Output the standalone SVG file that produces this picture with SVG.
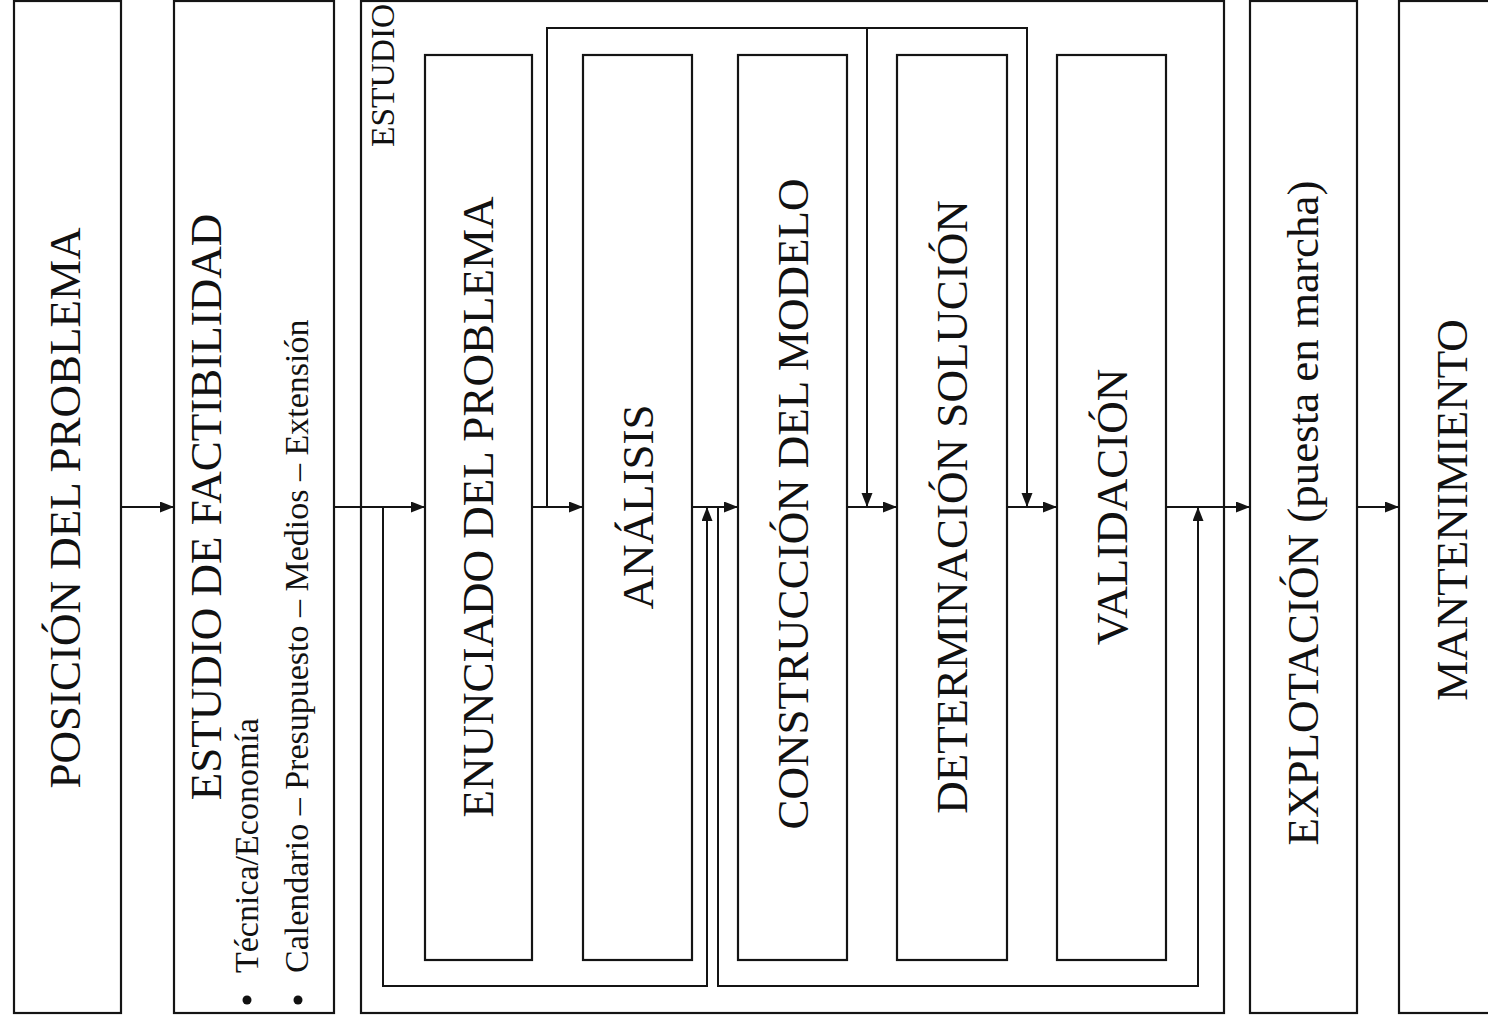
<svg xmlns="http://www.w3.org/2000/svg" width="1488" height="1019" viewBox="0 0 1488 1019">
  <style>
    .box { fill: #ffffff; stroke: #141414; stroke-width: 2.2; }
    .wire { fill: none; stroke: #141414; stroke-width: 2; }
    .title { font-family: "Liberation Serif", "Times New Roman", serif; font-size: 45px; fill: #111111; text-anchor: middle; }
    .small { font-family: "Liberation Serif", "Times New Roman", serif; font-size: 34px; fill: #111111; }
    .tag { font-family: "Liberation Serif", "Times New Roman", serif; font-size: 33.5px; fill: #111111; }
  </style>
  <defs>
    <marker id="arrow" markerUnits="userSpaceOnUse" markerWidth="15" markerHeight="12" refX="14" refY="5.5" orient="auto">
      <path d="M0,0 L14,5.5 L0,11 z" fill="#141414"/>
    </marker>
  </defs>
  <rect width="1488" height="1019" fill="#ffffff"/>

  <!-- stage 1 -->
  <g id="posicion">
    <rect class="box" x="14" y="1" width="107" height="1012"/>
    <text class="title" transform="translate(80,508) rotate(-90)">POSICIÓN DEL PROBLEMA</text>
  </g>

  <!-- stage 2 -->
  <g id="factibilidad">
    <rect class="box" x="174" y="1" width="160" height="1012"/>
    <text class="title" transform="translate(221,507) rotate(-90)">ESTUDIO DE FACTIBILIDAD</text>
    <circle cx="247" cy="1000" r="4.5" fill="#111111"/>
    <text class="small" transform="translate(258,973) rotate(-90)">Técnica/Economía</text>
    <circle cx="298" cy="1000" r="4.5" fill="#111111"/>
    <text class="small" transform="translate(308,973) rotate(-90)">Calendario – Presupuesto – Medios – Extensión</text>
  </g>

  <!-- stage 3: study container -->
  <g id="estudio">
    <rect class="box" x="361" y="1" width="863" height="1012"/>
    <text class="tag" transform="translate(394,147) rotate(-90)">ESTUDIO</text>
  </g>

  <g id="enunciado">
    <rect class="box" x="425" y="55" width="107" height="905"/>
    <text class="title" transform="translate(493,507) rotate(-90)">ENUNCIADO DEL PROBLEMA</text>
  </g>
  <g id="analisis">
    <rect class="box" x="583" y="55" width="109" height="905"/>
    <text class="title" transform="translate(653,507) rotate(-90)">ANÁLISIS</text>
  </g>
  <g id="construccion">
    <rect class="box" x="738" y="55" width="109" height="905"/>
    <text class="title" transform="translate(808,504) rotate(-90)">CONSTRUCCIÓN DEL MODELO</text>
  </g>
  <g id="determinacion">
    <rect class="box" x="897" y="55" width="110" height="905"/>
    <text class="title" transform="translate(967,507) rotate(-90)">DETERMINACIÓN SOLUCIÓN</text>
  </g>
  <g id="validacion">
    <rect class="box" x="1057" y="55" width="109" height="905"/>
    <text class="title" transform="translate(1127,507) rotate(-90)">VALIDACIÓN</text>
  </g>

  <!-- stage 4 -->
  <g id="explotacion">
    <rect class="box" x="1250" y="1" width="107" height="1012"/>
    <text class="title" transform="translate(1318,513) rotate(-90)">EXPLOTACIÓN (puesta en marcha)</text>
  </g>

  <!-- stage 5 -->
  <g id="mantenimiento">
    <rect class="box" x="1399" y="1" width="107" height="1012"/>
    <text class="title" transform="translate(1467,510) rotate(-90)">MANTENIMIENTO</text>
  </g>

  <!-- connectors -->
  <g id="connectors">
    <path class="wire" d="M121,507 H174" marker-end="url(#arrow)"/>
    <path class="wire" d="M334,507 H425" marker-end="url(#arrow)"/>
    <path class="wire" d="M383,507 V986 H707 V507" marker-end="url(#arrow)"/>
    <path class="wire" d="M532,507 H583" marker-end="url(#arrow)"/>
    <path class="wire" d="M547,507 V28 H1027 V507" marker-end="url(#arrow)"/>
    <path class="wire" d="M867,28 V507" marker-end="url(#arrow)"/>
    <path class="wire" d="M692,507 H738" marker-end="url(#arrow)"/>
    <path class="wire" d="M718,507 V986 H1198 V507" marker-end="url(#arrow)"/>
    <path class="wire" d="M847,507 H897" marker-end="url(#arrow)"/>
    <path class="wire" d="M1007,507 H1057" marker-end="url(#arrow)"/>
    <path class="wire" d="M1166,507 H1250" marker-end="url(#arrow)"/>
    <path class="wire" d="M1357,507 H1399" marker-end="url(#arrow)"/>
  </g>
</svg>
